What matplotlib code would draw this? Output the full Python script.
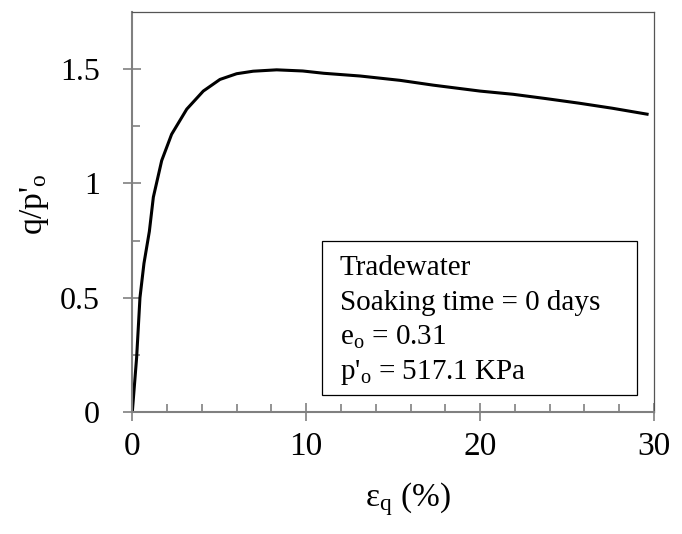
import matplotlib
matplotlib.use("Agg")
import matplotlib.pyplot as plt
from matplotlib.patches import Rectangle

plt.rcParams['font.family'] = ['Liberation Serif', 'DejaVu Serif']
plt.rcParams['mathtext.fontset'] = 'custom'
plt.rcParams['mathtext.rm'] = 'Liberation Serif'
plt.rcParams['mathtext.it'] = 'Liberation Serif:italic'

# strain (%) and normalised deviator stress
strain = [0, 0.25, 0.44, 0.67, 0.98, 1.21, 1.69, 2.26, 3.13, 4.08, 5.04, 6.0,
          6.95, 8.3, 9.8, 11.0, 13.1, 15.4, 17.3, 20.0, 21.9, 23.8, 25.7,
          27.6, 29.6]
q_ratio = [0, 0.24, 0.50, 0.65, 0.79, 0.94, 1.10, 1.215, 1.325, 1.404, 1.455,
           1.48, 1.491, 1.497, 1.492, 1.482, 1.470, 1.451, 1.430, 1.404, 1.39,
           1.371, 1.351, 1.329, 1.303]

info_lines = ["Tradewater", "Soaking time = 0 days",
              "e$_\\mathrm{o}$ = 0.31", "p'$_\\mathrm{o}$ = 517.1 KPa"]

fig = plt.figure(figsize=(6.82, 5.34), dpi=100)
ax = fig.add_axes([0.194, 0.2285, 0.765, 0.749])

ax.plot(strain, q_ratio, color='black', lw=2.2, solid_joinstyle='round')

ax.set_xlim(0, 30)
ax.set_ylim(0, 1.75)
ax.set_xticks([0, 10, 20, 30])
ax.set_xticks(range(0, 31, 2), minor=True)
ax.set_yticks([0, 0.5, 1, 1.5])
ax.set_yticklabels(['0', '0.5', '1', '1.5'])
ax.set_yticks([0.25, 0.75, 1.25], minor=True)

ax.tick_params(which='major', direction='inout', length=12.5, width=1.2,
               color='#808080', labelsize=23)
ax.tick_params(axis='x', which='major', labelsize=24, pad=8)
ax.tick_params(axis='y', which='major', pad=17)
ax.tick_params(which='minor', direction='in', length=5.5, width=1.2,
               color='#808080')

for side in ['left', 'bottom']:
    ax.spines[side].set_color('#808080')
    ax.spines[side].set_linewidth(1.5)
for side in ['top', 'right']:
    ax.spines[side].set_color('#555555')
    ax.spines[side].set_linewidth(0.9)

ax.set_xlabel("ε$_\\mathrm{q}$ (%)", fontsize=24)
ax.xaxis.set_label_coords(0.528, -0.17)
ax.set_ylabel("q/p'$_\\mathrm{o}$", fontsize=24, va='center')
ax.yaxis.set_label_coords(-0.187, 0.52)

ax.add_patch(Rectangle((0.3636, 0.0425), 0.6038, 0.385, transform=ax.transAxes,
                       fill=False, edgecolor='black', lw=0.9))
for i, line in enumerate(info_lines):
    ax.text(0.398, 0.36 - i * 0.0867, line, transform=ax.transAxes,
            fontsize=21, va='center', ha='left')

fig.savefig("out.png", dpi=100)
